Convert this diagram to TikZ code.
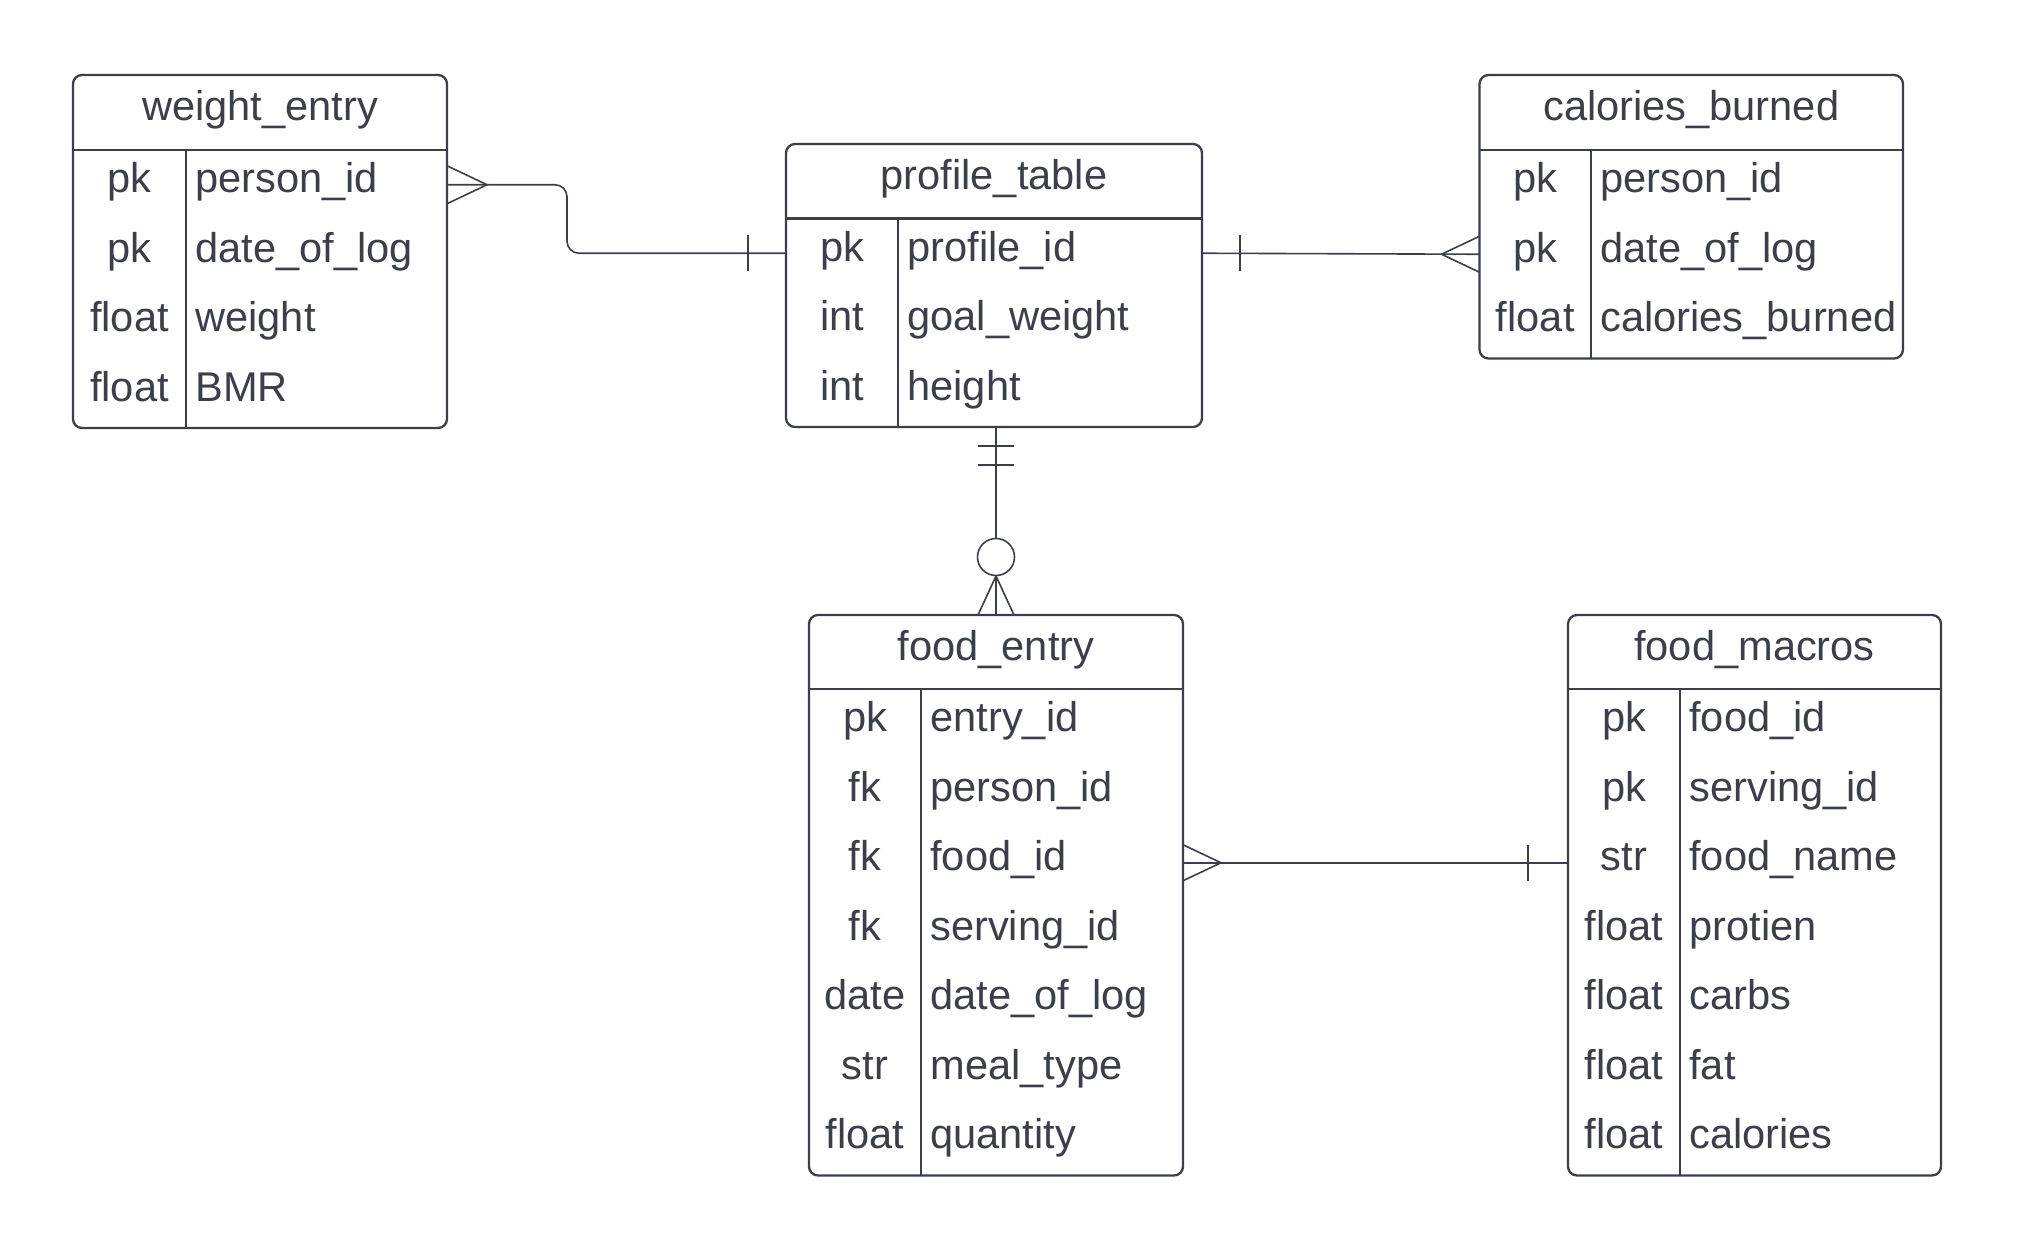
\documentclass[tikz,border=0pt]{standalone}
\usepackage{fontspec}
\setmainfont{Liberation Sans}
\usetikzlibrary{fit,calc}
\definecolor{ink}{HTML}{3A3F4A}
\tikzset{
 boxline/.style={draw=ink, line width=1.15pt},
 conn/.style={draw=ink, line width=0.8pt},
 txt/.style={text=ink, font=\fontsize{20.8}{24}\selectfont, inner sep=0pt},
}
\newcommand\ertable[9]{%
 \coordinate (#1-nw) at (#2,#3);
 \coordinate (#1-se) at (#4,#6);
 \node[boxline, rounded corners=4.5pt, fit=(#1-nw)(#1-se), inner sep=0pt, outer sep=0pt] (#1) {};
 \draw[boxline] (#2,#5) -- (#4,#5);
 \draw[boxline] (#7,#5) -- (#7,#6);
 \node[txt, anchor=base] (#1-title) at ({(#2+#4)/2},{(#3+#5)/2+8}) {#8};
 \foreach \k/\f [count=\i] in {#9} {
   \pgfmathsetmacro\yc{#5+(\i-0.5)*69.5}
   \coordinate (#1-w\i) at (#2,\yc);
   \coordinate (#1-e\i) at (#4,\yc);
   \node[txt, anchor=base] (#1-k\i) at ({(#2+#7)/2},\yc+8) {\k};
   \node[txt, anchor=base west] (#1-f\i) at (#7+9,\yc+8) {\f};
 }
}
\begin{document}
\begin{tikzpicture}[x=0.5pt, y=-0.5pt]
\fill[white] (0,0) rectangle (2018,1251);
\useasboundingbox (0,0) rectangle (2018,1251);

\ertable{we}{73}{75}{447}{150}{428}{186}{weight\_entry}{pk/person\_id, pk/date\_of\_log, float/weight, float/BMR}
\ertable{pt}{786}{144}{1202}{218.5}{427}{898}{profile\_table}{pk/profile\_id, int/goal\_weight, int/height}
\ertable{cb}{1479.5}{75}{1903}{150}{358.5}{1591}{calories\_burned}{pk/person\_id, pk/date\_of\_log, float/calories\_burned}
\ertable{fe}{809}{615}{1183}{689}{1175.5}{921}{food\_entry}{pk/entry\_id, fk/person\_id, fk/food\_id, fk/serving\_id, date/date\_of\_log, str/meal\_type, float/quantity}
\ertable{fm}{1568}{615}{1941}{689}{1175.5}{1680}{food\_macros}{pk/food\_id, pk/serving\_id, str/food\_name, float/protien, float/carbs, float/fat, float/calories}

% weight_entry -- profile_table
\draw[conn, rounded corners=6pt] (we-e1) -- ++(120,0) |- (pt-w1);
\draw[conn] ($(we-e1)+(0,-19)$) -- ($(we-e1)+(40,0)$) -- ($(we-e1)+(0,19)$);
\draw[conn] ($(pt-w1)+(-38,-18)$) -- ++(0,36);

% profile_table -- calories_burned
\draw[conn] (pt-e1) -- (cb-w2);
\draw[conn] ($(pt-e1)+(38,-18)$) -- ++(0,36);
\draw[conn] ($(cb-w2)+(0,-18)$) -- ($(cb-w2)+(-38,0)$) -- ($(cb-w2)+(0,18)$);

% profile_table -- food_entry
\coordinate (vtop) at (fe.north |- pt.south);
\draw[conn] (vtop) -- (fe.north);
\draw[conn] ($(vtop)+(-18,19)$) -- ++(36,0);
\draw[conn] ($(vtop)+(-18,38)$) -- ++(36,0);
\draw[conn] ($(fe.north)+(-18,0)$) -- ($(fe.north)+(0,-39)$) -- ($(fe.north)+(18,0)$);
\node[circle, draw=ink, line width=0.8pt, fill=white, minimum size=18.5pt, inner sep=0pt] (opt) at ($(fe.north)+(0,-58)$) {};

% food_entry -- food_macros
\draw[conn] (fe-e3) -- (fm-w3);
\draw[conn] ($(fe-e3)+(0,-18)$) -- ($(fe-e3)+(38,0)$) -- ($(fe-e3)+(0,18)$);
\draw[conn] ($(fm-w3)+(-40,-18)$) -- ++(0,36);
\end{tikzpicture}
\end{document}
